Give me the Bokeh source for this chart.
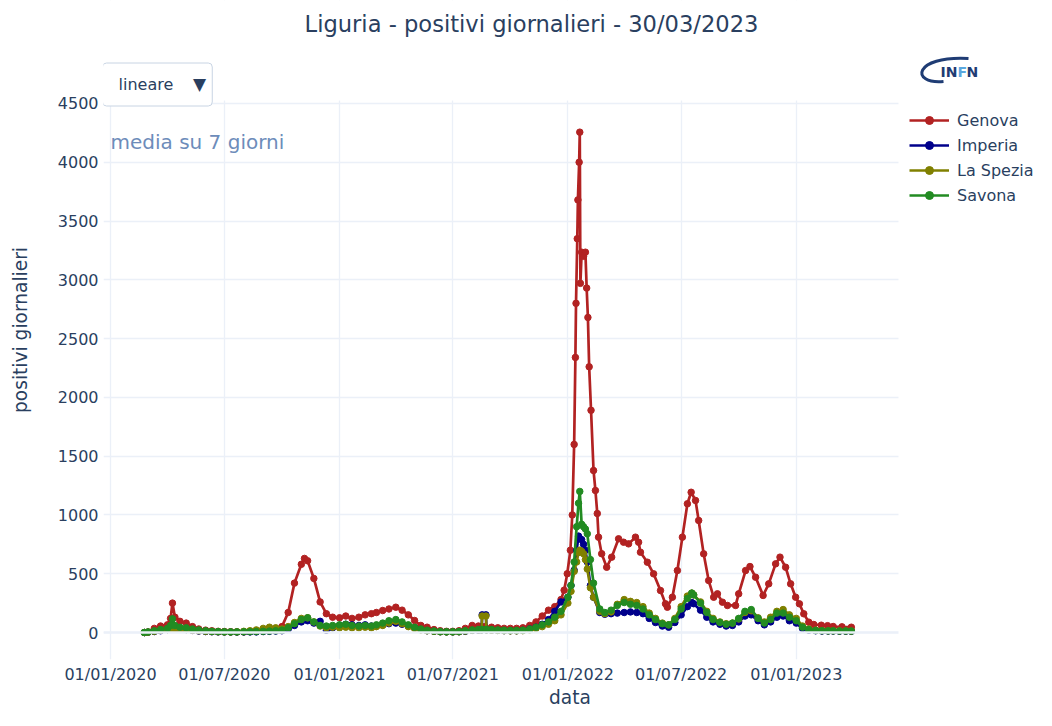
import pandas as pd
from bokeh.plotting import figure
from bokeh.models import (ColumnDataSource, Range1d, FixedTicker, DatetimeTickFormatter,
                          Label, Legend, LegendItem, Span, BoxAnnotation)
from bokeh.embed import file_html
from bokeh.resources import INLINE

TITLE = "Liguria - positivi giornalieri - 30/03/2023"
MENU_TEXT = "lineare"
NOTE_TEXT = "media su 7 giorni"
series_names = ["Genova", "Imperia", "La Spezia", "Savona"]
series_colors = ["#b22222", "#00008b", "#808000", "#228b22"]

x_tick_labels = ["01/01/2020", "01/07/2020", "01/01/2021", "01/07/2021",
                 "01/01/2022", "01/07/2022", "01/01/2023"]
y_ticks = [0, 500, 1000, 1500, 2000, 2500, 3000, 3500, 4000, 4500]

# ---------------- data (7-day average of daily positives) ----------------
genova_dates = [
    "2020-02-24", "2020-03-01", "2020-03-11", "2020-03-21", "2020-04-01", "2020-04-06", "2020-04-09",
    "2020-04-13", "2020-04-21", "2020-05-01", "2020-05-11", "2020-05-21", "2020-06-01", "2020-06-11",
    "2020-06-21", "2020-07-01", "2020-07-11", "2020-07-21", "2020-08-01", "2020-08-11", "2020-08-21",
    "2020-09-01", "2020-09-11", "2020-09-21", "2020-10-01", "2020-10-11", "2020-10-21", "2020-11-01",
    "2020-11-06", "2020-11-11", "2020-11-21", "2020-12-01", "2020-12-11", "2020-12-21",
    "2021-01-01", "2021-01-11", "2021-01-21", "2021-02-01", "2021-02-11", "2021-02-21", "2021-03-01",
    "2021-03-11", "2021-03-21", "2021-04-01", "2021-04-11", "2021-04-21", "2021-05-01", "2021-05-11",
    "2021-05-21", "2021-06-01", "2021-06-11", "2021-06-21", "2021-07-01", "2021-07-11", "2021-07-21",
    "2021-08-01", "2021-08-11", "2021-08-21", "2021-09-01", "2021-09-11", "2021-09-21", "2021-10-01",
    "2021-10-11", "2021-10-21", "2021-11-01", "2021-11-11", "2021-11-21", "2021-12-01", "2021-12-11",
    "2021-12-21", "2021-12-26", "2021-12-31",
    "2022-01-05", "2022-01-08", "2022-01-11", "2022-01-13", "2022-01-14", "2022-01-16", "2022-01-17",
    "2022-01-19", "2022-01-20", "2022-01-21", "2022-01-23", "2022-01-26", "2022-01-29", "2022-01-31",
    "2022-02-02", "2022-02-04", "2022-02-07", "2022-02-11", "2022-02-14", "2022-02-17", "2022-02-19",
    "2022-02-24", "2022-03-04", "2022-03-12", "2022-03-23", "2022-03-31", "2022-04-08", "2022-04-19",
    "2022-04-24", "2022-04-27", "2022-05-08", "2022-05-18", "2022-05-29", "2022-06-06", "2022-06-09",
    "2022-06-17", "2022-06-25", "2022-07-03", "2022-07-11", "2022-07-17", "2022-07-24", "2022-07-29",
    "2022-08-06", "2022-08-14", "2022-08-22", "2022-08-28", "2022-09-05", "2022-09-13", "2022-09-26",
    "2022-10-01", "2022-10-12", "2022-10-19", "2022-10-28", "2022-11-09", "2022-11-18", "2022-11-29",
    "2022-12-06", "2022-12-15", "2022-12-23", "2022-12-31",
    "2023-01-06", "2023-01-13", "2023-01-21", "2023-01-29", "2023-02-10", "2023-02-20", "2023-03-01",
    "2023-03-15", "2023-03-30",
]
genova = [
    0, 5, 35, 55, 65, 120, 250,
    130, 95, 80, 50, 30, 20, 15,
    10, 8, 6, 5, 5, 8, 15,
    20, 25, 30, 50, 170, 420, 580,
    630, 610, 460, 260, 160, 130,
    125, 140, 120, 130, 150, 160, 170,
    187, 200, 215, 190, 150, 102, 60,
    45, 25, 15, 10, 10, 15, 35,
    60, 55, 50, 45, 40, 35, 35,
    35, 40, 60, 90, 140, 190, 220,
    280, 360, 500,
    700, 1000, 1600, 2340, 2800, 3350, 3680,
    4000, 4256, 2970, 3235, 3200, 3235, 2930,
    2680, 2260, 1890, 1378, 1208, 1012, 811,
    670, 555, 641, 797, 768, 754, 811,
    768, 683, 598, 499, 357, 244, 215,
    300, 527, 811, 1095, 1193, 1123, 953,
    669, 442, 300, 329, 258, 230, 230,
    329, 527, 561, 470, 315, 414, 584,
    641, 555, 414, 300,
    244, 159, 88, 68, 62, 58, 51,
    48, 45,
]

other_dates = [
    "2020-02-24", "2020-03-01", "2020-03-11", "2020-03-21", "2020-04-01", "2020-04-06", "2020-04-09",
    "2020-04-13", "2020-04-21", "2020-05-01", "2020-05-11", "2020-05-21", "2020-06-01", "2020-06-11",
    "2020-06-21", "2020-07-01", "2020-07-11", "2020-07-21", "2020-08-01", "2020-08-11", "2020-08-21",
    "2020-09-01", "2020-09-11", "2020-09-21", "2020-10-01", "2020-10-11", "2020-10-21", "2020-11-01",
    "2020-11-11", "2020-11-21", "2020-12-01", "2020-12-11", "2020-12-21",
    "2021-01-01", "2021-01-11", "2021-01-21", "2021-02-01", "2021-02-11", "2021-02-21", "2021-03-01",
    "2021-03-11", "2021-03-21", "2021-04-01", "2021-04-11", "2021-04-21", "2021-05-01", "2021-05-11",
    "2021-05-21", "2021-06-01", "2021-06-11", "2021-06-21", "2021-07-01", "2021-07-11", "2021-07-21",
    "2021-08-01", "2021-08-11", "2021-08-16", "2021-08-17", "2021-08-23", "2021-08-24", "2021-09-01",
    "2021-09-11", "2021-09-21", "2021-10-01", "2021-10-11", "2021-10-21", "2021-11-01", "2021-11-11",
    "2021-11-21", "2021-12-01", "2021-12-11", "2021-12-21",
    "2022-01-01", "2022-01-06", "2022-01-11", "2022-01-15", "2022-01-18", "2022-01-20", "2022-01-23",
    "2022-01-26", "2022-01-29", "2022-02-01", "2022-02-06", "2022-02-11", "2022-02-21", "2022-03-01",
    "2022-03-11", "2022-03-21", "2022-04-01", "2022-04-11", "2022-04-21", "2022-05-01", "2022-05-11",
    "2022-05-21", "2022-06-01", "2022-06-11", "2022-06-21", "2022-07-01", "2022-07-11", "2022-07-18",
    "2022-07-21", "2022-08-01", "2022-08-11", "2022-08-21", "2022-09-01", "2022-09-11", "2022-09-21",
    "2022-10-01", "2022-10-11", "2022-10-21", "2022-11-01", "2022-11-11", "2022-11-21", "2022-12-01",
    "2022-12-11", "2022-12-21",
    "2023-01-01", "2023-01-11", "2023-01-21", "2023-02-01", "2023-02-11", "2023-02-21", "2023-03-01",
    "2023-03-11", "2023-03-21", "2023-03-30",
]
imperia = [
    0, 2, 8, 15, 25, 30, 35,
    35, 30, 25, 18, 12, 8, 6,
    5, 4, 4, 4, 5, 5, 5,
    8, 10, 12, 15, 30, 60, 90,
    100, 80, 95, 20, 40,
    60, 70, 65, 60, 65, 55, 55,
    65, 75, 80, 70, 55, 40, 25,
    15, 10, 6, 5, 5, 6, 10,
    18, 20, 22, 150, 150, 22, 20,
    18, 16, 15, 15, 18, 30, 45,
    70, 110, 180, 260,
    300, 400, 530, 700, 820, 800, 790,
    750, 700, 600, 400, 300, 170, 155,
    160, 165, 170, 175, 170, 160, 120,
    85, 55, 45, 85, 150, 220, 255,
    245, 190, 130, 90, 70, 55, 60,
    90, 140, 150, 100, 65, 90, 130,
    140, 100,
    80, 35, 20, 15, 12, 12, 12,
    11, 11, 10,
]
la_spezia = [
    0, 3, 10, 20, 25, 30, 35,
    35, 30, 25, 20, 15, 10, 8,
    6, 5, 5, 6, 10, 15, 22,
    35, 45, 40, 30, 50, 85, 120,
    125, 90, 55, 40, 45,
    40, 45, 40, 40, 45, 40, 50,
    60, 80, 95, 75, 50, 35, 22,
    15, 10, 6, 5, 5, 6, 12,
    20, 22, 22, 140, 140, 22, 20,
    18, 16, 14, 14, 16, 22, 35,
    50, 70, 100, 150,
    250, 350, 520, 600, 680, 700, 690,
    670, 620, 540, 380, 300, 180, 160,
    175, 240, 280, 265, 255, 220, 165,
    120, 80, 65, 120, 220, 310, 335,
    320, 260, 180, 120, 90, 75, 80,
    115, 170, 185, 125, 90, 130, 180,
    195, 150,
    120, 55, 30, 20, 16, 15, 15,
    14, 14, 13,
]
savona = [
    0, 5, 15, 25, 35, 60, 116,
    60, 45, 40, 30, 22, 15, 10,
    8, 6, 5, 5, 6, 7, 8,
    10, 12, 15, 20, 40, 75, 110,
    125, 90, 60, 55, 60,
    65, 70, 60, 55, 60, 55, 65,
    80, 100, 110, 90, 65, 45, 30,
    20, 12, 8, 6, 6, 8, 15,
    22, 25, 25, 25, 25, 25, 25,
    22, 20, 18, 18, 20, 30, 45,
    65, 90, 130, 180,
    300, 400, 600, 900, 1100, 1200, 920,
    900, 880, 840, 620, 420, 200, 170,
    190, 230, 255, 240, 230, 200, 150,
    110, 75, 65, 110, 200, 290, 335,
    320, 250, 170, 110, 85, 70, 80,
    120, 180, 195, 120, 80, 110, 165,
    165, 130,
    100, 45, 25, 18, 15, 14, 14,
    13, 13, 12,
]

# ---------------- geometry (picture pixels) ----------------
W, H = 1036, 710
FL, FB = 103, 659          # frame left / bottom
PLOT_R, PLOT_T = 898, 100  # visible plotting area right / top edges
X0_PX, X_PX_PER_DAY = 110, 0.6257      # 01/01/2020 position and day width
Y0_PX, Y_PX_PER_UNIT = 632, 0.11756    # zero line position and unit height
t0_ms = pd.Timestamp("2020-01-01").value / 1e6
DAY_MS = 86400000.0


def px_x(px):
    return t0_ms + (px - X0_PX) / X_PX_PER_DAY * DAY_MS


def px_y(py):
    return (Y0_PX - py) / Y_PX_PER_UNIT


TXT = "#2a3f5f"
FONT = "DejaVu Sans"

# the frame spans the whole canvas above/right of the axes so that every text is drawn inside it
p = figure(width=W, height=H, x_axis_type="datetime",
           x_range=Range1d(px_x(FL), px_x(W)), y_range=Range1d(px_y(FB), px_y(0)),
           output_backend="svg", toolbar_location=None,
           min_border_left=FL, min_border_right=0, min_border_top=0, min_border_bottom=H - FB)
p.title.visible = False
p.outline_line_color = None
p.background_fill_color = "white"
p.border_fill_color = "white"

for g in (p.xgrid[0], p.ygrid[0]):
    g.grid_line_color = "#ebf0f8"
    g.grid_line_width = 1.3
p.add_layout(Span(location=0, dimension="width", line_color="#ebf0f8", line_width=2.6))

tick_ms = [pd.to_datetime(t, dayfirst=True).value / 1e6 for t in x_tick_labels]
p.xaxis[0].ticker = FixedTicker(ticks=tick_ms, minor_ticks=[])
fmt = "%d/%m/%Y"
p.xaxis[0].formatter = DatetimeTickFormatter(days=fmt, months=fmt, years=fmt, hours=fmt)
p.yaxis[0].ticker = FixedTicker(ticks=y_ticks, minor_ticks=[])
p.xaxis[0].bounds = (px_x(FL), px_x(PLOT_R))
p.yaxis[0].bounds = (px_y(FB), px_y(PLOT_T))

for ax in (p.xaxis[0], p.yaxis[0]):
    ax.axis_line_color = None
    ax.major_tick_line_color = None
    ax.minor_tick_line_color = None
    ax.major_tick_out = 0
    ax.major_tick_in = 0
    ax.major_label_text_font = FONT
    ax.major_label_text_font_size = "16px"
    ax.major_label_text_color = TXT
    ax.axis_label_text_font = FONT
    ax.axis_label_text_font_size = "18.6px"
    ax.axis_label_text_font_style = "normal"
    ax.axis_label_text_color = TXT

p.xaxis[0].axis_label = "data"
p.yaxis[0].axis_label = "positivi giornalieri"
p.xaxis[0].major_label_standoff = 5
p.xaxis[0].axis_label_standoff = 0
p.yaxis[0].major_label_standoff = 5
p.yaxis[0].axis_label_standoff = 24

datasets = [
    (genova_dates, genova),
    (other_dates, imperia),
    (other_dates, la_spezia),
    (other_dates, savona),
]
items = []
for name, col, (dates, vals) in zip(series_names, series_colors, datasets):
    src = ColumnDataSource(dict(x=pd.to_datetime(dates), y=vals))
    r1 = p.line("x", "y", source=src, line_color=col, line_width=2.7)
    r2 = p.scatter("x", "y", source=src, size=6.5, fill_color=col, line_color=col)
    items.append(LegendItem(label=name, renderers=[r1, r2]))

# white margins outside the plotting area (hide grid lines there)
p.add_layout(BoxAnnotation(bottom=px_y(PLOT_T), fill_color="white", fill_alpha=1, line_alpha=0))
p.add_layout(BoxAnnotation(left=px_x(PLOT_R), fill_color="white", fill_alpha=1, line_alpha=0))

# legend to the right of the plotting area
LEG_H = 4 * 20 + 3 * 5
legend = Legend(items=items, location=(909 - FL, FB - (110 + LEG_H)),
                orientation="vertical",
                glyph_width=40, glyph_height=20, label_height=20, spacing=5,
                padding=0, margin=0, border_line_color=None, background_fill_alpha=0,
                label_text_font=FONT, label_text_font_size="16px",
                label_text_color=TXT, label_standoff=8)
p.add_layout(legend)

# title
p.add_layout(Label(x=px_x(531), y=px_y(23), text=TITLE, text_align="center",
                   text_baseline="middle", text_font=FONT, text_font_size="22.6px",
                   text_color=TXT))
# annotation
p.add_layout(Label(x=px_x(110), y=px_y(141), text=NOTE_TEXT, text_align="left",
                   text_baseline="middle", text_font=FONT, text_font_size="20px",
                   text_color="#6d8cba"))
# drop-down menu (box from x=102 to 212)
p.add_layout(Label(x=px_x(102), y=px_y(84), text=MENU_TEXT, text_align="left",
                   text_baseline="middle", text_font=FONT, text_font_size="16px",
                   text_color=TXT, background_fill_color="white",
                   border_line_color="#c8d4e3", border_line_width=1, border_radius=4,
                   padding=dict(left=16, right=39, top=12, bottom=12)))
p.add_layout(Label(x=px_x(199), y=px_y(83), text="▼", text_align="center",
                   text_baseline="middle", text_font=FONT, text_font_size="17px",
                   text_color=TXT))
# INFN logo
p.bezier(x0=[px_x(968)], y0=[px_y(58)], x1=[px_x(943)], y1=[px_y(81)],
         cx0=[px_x(912)], cy0=[px_y(55)], cx1=[px_x(910)], cy1=[px_y(84)],
         line_color="#1f3c74", line_width=3, level="overlay")
for txt, xpx, col in (("IN", 940, "#1f3c74"), ("F", 957, "#5aa7de"), ("N", 966, "#1f3c74")):
    p.add_layout(Label(x=px_x(xpx), y=px_y(71), text=txt, text_align="left",
                       text_baseline="middle", text_font=FONT, text_font_size="14px",
                       text_font_style="bold", text_color=col))

open("out.html", "w").write(file_html(p, INLINE))
